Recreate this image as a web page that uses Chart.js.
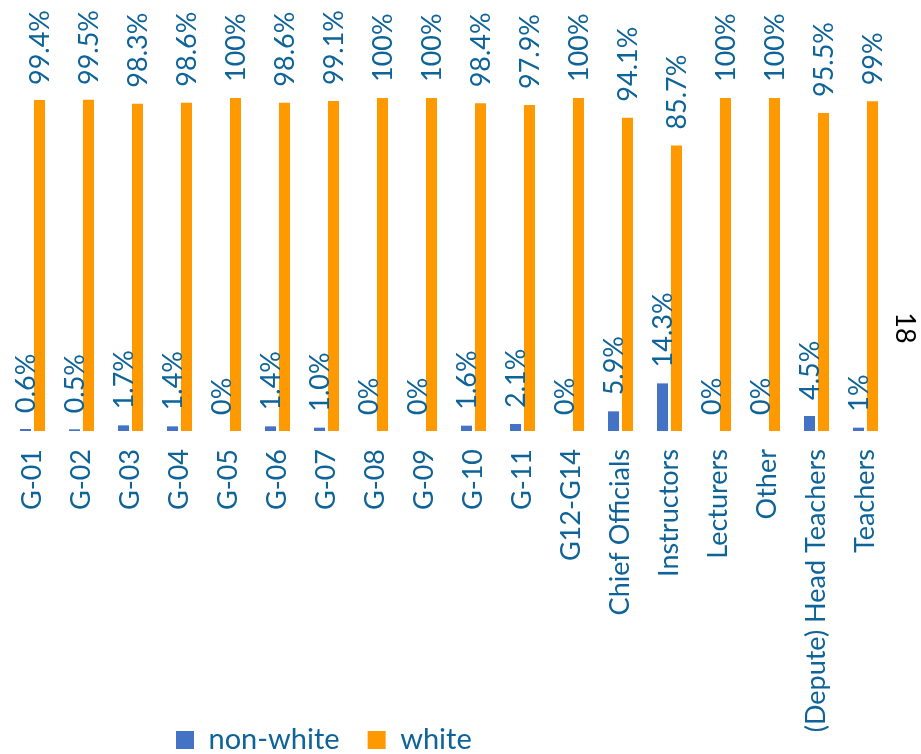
<!DOCTYPE html>
<html><head><meta charset="utf-8">
<script src="https://cdn.jsdelivr.net/npm/chart.js@4.4.1/dist/chart.umd.min.js"></script>
<style>html,body{margin:0;padding:0;background:#fff;}#wrap{width:921px;height:754px;}</style>
</head><body><div id="wrap"><canvas id="c" width="921" height="754"></canvas></div>
<script>
const categories = ["G-01","G-02","G-03","G-04","G-05","G-06","G-07","G-08","G-09","G-10","G-11","G12-G14","Chief Officials","Instructors","Lecturers","Other","(Depute) Head Teachers","Teachers"];
const nonWhite = [0.6,0.5,1.7,1.4,0,1.4,1.0,0,0,1.6,2.1,0,5.9,14.3,0,0,4.5,1];
const white = [99.4,99.5,98.3,98.6,100,98.6,99.1,100,100,98.4,97.9,100,94.1,85.7,100,100,95.5,99];
const nonWhiteLabels = ["0.6%","0.5%","1.7%","1.4%","0%","1.4%","1.0%","0%","0%","1.6%","2.1%","0%","5.9%","14.3%","0%","0%","4.5%","1%"];
const whiteLabels = ["99.4%","99.5%","98.3%","98.6%","100%","98.6%","99.1%","100%","100%","98.4%","97.9%","100%","94.1%","85.7%","100%","100%","95.5%","99%"];
const seriesNames = ["non-white","white"];
const pageNumber = "18";

const TEXT = "#0E6399";
const FONT = "Lato";
const FS = 27;
const LEG_FS = 29;
const LEG_PAD = 28;
const PLOT_BOTTOM = 431;

const valueLabels = {
  id: "valueLabels",
  afterDatasetsDraw(chart) {
    const ctx = chart.ctx;
    const lists = [nonWhiteLabels, whiteLabels];
    ctx.save();
    ctx.font = FS + "px " + FONT;
    ctx.fillStyle = TEXT;
    ctx.textAlign = "left";
    ctx.textBaseline = "middle";
    chart.data.datasets.forEach((ds, di) => {
      const meta = chart.getDatasetMeta(di);
      meta.data.forEach((bar, i) => {
        const txt = lists[di][i];
        const w = ctx.measureText(txt).width;
        let start = bar.y - 16;
        if (start - w < 10) start = 10 + w;
        ctx.save();
        ctx.translate(bar.x, start);
        ctx.rotate(-Math.PI / 2);
        ctx.fillText(txt, 0, 1);
        ctx.restore();
      });
    });
    ctx.save();
    ctx.fillStyle = "#000";
    ctx.textAlign = "center";
    ctx.translate(905, 328);
    ctx.rotate(Math.PI / 2);
    ctx.fillText(pageNumber, 0, 0);
    ctx.restore();
    ctx.restore();
  }
};

const legendPlace = {
  id: "legendPlace",
  afterLayout(chart) {
    const lg = chart.legend;
    if (!lg) return;
    const dx = (176 - LEG_PAD) - lg.left;
    lg.left += dx; lg.right += dx;
    const top = 740 - LEG_FS / 2 - LEG_PAD;
    lg.top = top; lg.bottom = chart.height;
    lg.height = lg.bottom - lg.top;
  }
};

new Chart(document.getElementById("c"), {
  type: "bar",
  data: {
    labels: categories,
    datasets: [
      { label: seriesNames[0], data: nonWhite, backgroundColor: "#4472C4", barPercentage: 0.79, categoryPercentage: 0.57 },
      { label: seriesNames[1], data: white, backgroundColor: "#FF9900", barPercentage: 0.79, categoryPercentage: 0.57 }
    ]
  },
  options: {
    responsive: false,
    animation: false,
    layout: { padding: { left: 8, right: 31, top: 98, bottom: 0 } },
    scales: {
      x: {
        grid: { display: false, drawTicks: false },
        border: { display: false },
        ticks: { color: TEXT, font: { family: FONT, size: FS }, maxRotation: 90, minRotation: 90, padding: 18, autoSkip: false },
        afterFit(s) {
          s.height = s.chart.height - PLOT_BOTTOM - 1;
        }
      },
      y: { display: false, min: 0, max: 100 }
    },
    plugins: {
      legend: {
        position: "bottom", align: "start", maxHeight: 1,
        labels: { boxWidth: 18, boxHeight: 18, padding: LEG_PAD, color: TEXT, font: { family: FONT, size: LEG_FS } }
      },
      tooltip: { enabled: false }
    }
  },
  plugins: [valueLabels, legendPlace]
});
</script>
</body></html>
